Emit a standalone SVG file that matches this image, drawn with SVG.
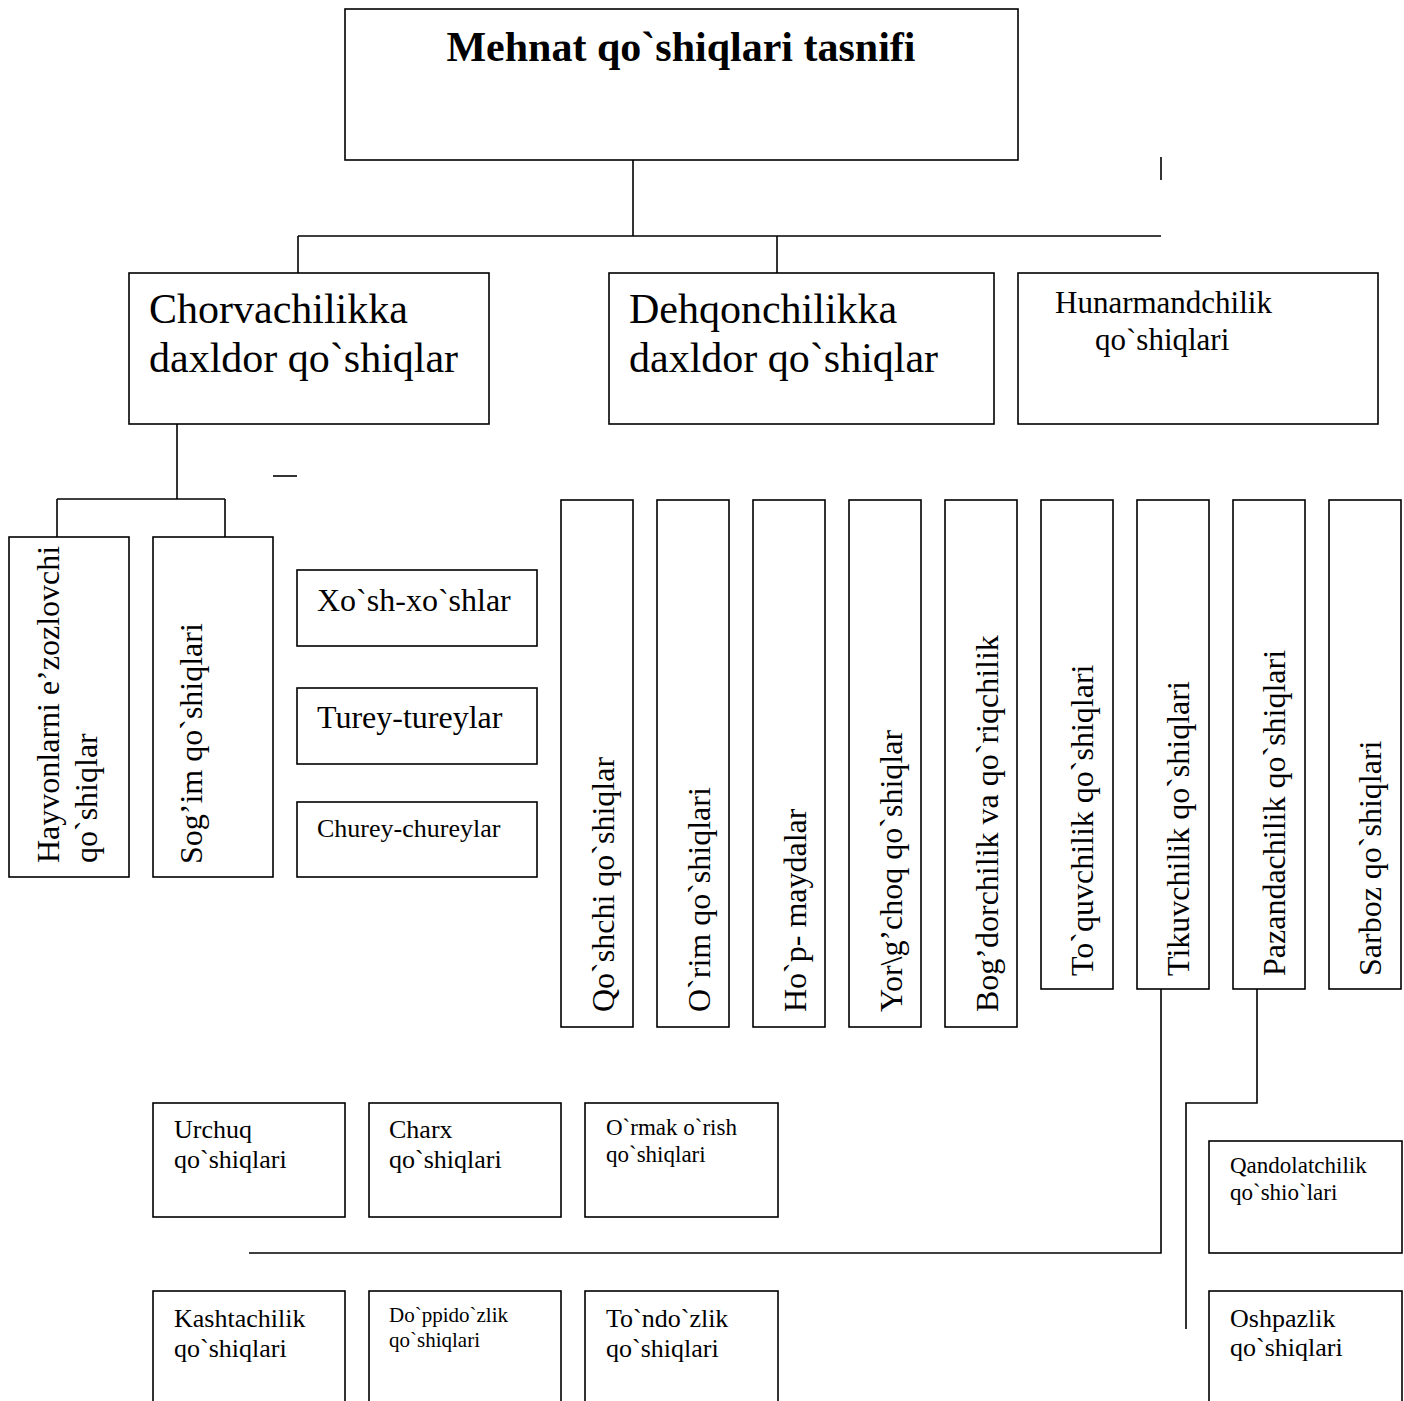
<svg xmlns="http://www.w3.org/2000/svg" width="1404" height="1401" viewBox="0 0 1404 1401">
<style>
rect{fill:#fff;stroke:#000;stroke-width:1.6}
line,polyline{fill:none;stroke:#000;stroke-width:1.6}
text{font-family:"Liberation Serif","Times New Roman",serif;fill:#000}
.t42{font-size:42px}
.t32{font-size:32px}
.t31{font-size:31px}
.t26{font-size:26px}
.t23{font-size:23px}
.t21{font-size:21px}
</style>
<rect x="0" y="0" width="1404" height="1401" style="stroke:none"/>
<g id="connectors">
<line x1="633" y1="160" x2="633" y2="236"/>
<line x1="298" y1="236" x2="1161" y2="236"/>
<line x1="298" y1="236" x2="298" y2="273"/>
<line x1="777" y1="236" x2="777" y2="273"/>
<line x1="1161" y1="157" x2="1161" y2="180"/>
<line x1="177" y1="424" x2="177" y2="499"/>
<line x1="57" y1="499" x2="225" y2="499"/>
<line x1="57" y1="499" x2="57" y2="537"/>
<line x1="225" y1="499" x2="225" y2="537"/>
<line x1="273" y1="476" x2="297" y2="476"/>
<polyline points="1161,989 1161,1253 249,1253"/>
<polyline points="1257,989 1257,1103 1186,1103 1186,1329"/>
</g>
<g id="root">
<rect x="345" y="9" width="673" height="151"/>
<text x="681" y="61" class="t42" font-weight="bold" text-anchor="middle">Mehnat qo`shiqlari tasnifi</text>
</g>
<g id="chorvachilik">
<rect x="129" y="273" width="360" height="151"/>
<text x="149" y="323" class="t42">Chorvachilikka</text>
<text x="149" y="372" class="t42">daxldor qo`shiqlar</text>
</g>
<g id="dehqonchilik">
<rect x="609" y="273" width="385" height="151"/>
<text x="629" y="323" class="t42">Dehqonchilikka</text>
<text x="629" y="372" class="t42">daxldor qo`shiqlar</text>
</g>
<g id="hunarmandchilik">
<rect x="1018" y="273" width="360" height="151"/>
<text x="1055" y="313" class="t31">Hunarmandchilik</text>
<text x="1095" y="350" class="t31">qo`shiqlari</text>
</g>
<g id="hayvonlarni">
<rect x="9" y="537" width="120" height="340"/>
<text transform="translate(59,863) rotate(-90)" class="t32">Hayvonlarni e’zozlovchi</text>
<text transform="translate(97,863) rotate(-90)" class="t32">qo`shiqlar</text>
</g>
<g id="sogim">
<rect x="153" y="537" width="120" height="340"/>
<text transform="translate(202,864) rotate(-90)" class="t32">Sog’im qo`shiqlari</text>
</g>
<g id="xosh">
<rect x="297" y="570" width="240" height="76"/>
<text x="317" y="611" class="t32">Xo`sh-xo`shlar</text>
</g>
<g id="turey">
<rect x="297" y="688" width="240" height="76"/>
<text x="317" y="728" class="t32">Turey-tureylar</text>
</g>
<g id="churey">
<rect x="297" y="802" width="240" height="75"/>
<text x="317" y="837" class="t26">Churey-chureylar</text>
</g>
<g id="qoshchi">
<rect x="561" y="500" width="72" height="527"/>
<text transform="translate(614,1012) rotate(-90)" class="t32">Qo`shchi qo`shiqlar</text>
</g>
<g id="orim">
<rect x="657" y="500" width="72" height="527"/>
<text transform="translate(710,1012) rotate(-90)" class="t32">O`rim qo`shiqlari</text>
</g>
<g id="hop">
<rect x="753" y="500" width="72" height="527"/>
<text transform="translate(806,1012) rotate(-90)" class="t32">Ho`p- maydalar</text>
</g>
<g id="yorgchoq">
<rect x="849" y="500" width="72" height="527"/>
<text transform="translate(902,1012) rotate(-90)" class="t32">Yor\g’choq qo`shiqlar</text>
</g>
<g id="bogdorchilik">
<rect x="945" y="500" width="72" height="527"/>
<text transform="translate(998,1012) rotate(-90)" class="t32">Bog’dorchilik va qo`riqchilik</text>
</g>
<g id="toquvchilik">
<rect x="1041" y="500" width="72" height="489"/>
<text transform="translate(1093,976) rotate(-90)" class="t32">To`quvchilik qo`shiqlari</text>
</g>
<g id="tikuvchilik">
<rect x="1137" y="500" width="72" height="489"/>
<text transform="translate(1189,976) rotate(-90)" class="t32">Tikuvchilik qo`shiqlari</text>
</g>
<g id="pazandachilik">
<rect x="1233" y="500" width="72" height="489"/>
<text transform="translate(1285,976) rotate(-90)" class="t32">Pazandachilik qo`shiqlari</text>
</g>
<g id="sarboz">
<rect x="1329" y="500" width="72" height="489"/>
<text transform="translate(1381,976) rotate(-90)" class="t32">Sarboz qo`shiqlari</text>
</g>
<g id="urchuq">
<rect x="153" y="1103" width="192" height="114"/>
<text x="174" y="1138" class="t26">Urchuq</text>
<text x="174" y="1168" class="t26">qo`shiqlari</text>
</g>
<g id="charx">
<rect x="369" y="1103" width="192" height="114"/>
<text x="389" y="1138" class="t26">Charx</text>
<text x="389" y="1168" class="t26">qo`shiqlari</text>
</g>
<g id="ormak">
<rect x="585" y="1103" width="193" height="114"/>
<text x="606" y="1135" class="t23">O`rmak o`rish</text>
<text x="606" y="1162" class="t23">qo`shiqlari</text>
</g>
<g id="kashtachilik">
<rect x="153" y="1291" width="192" height="130"/>
<text x="174" y="1327" class="t26">Kashtachilik</text>
<text x="174" y="1357" class="t26">qo`shiqlari</text>
</g>
<g id="doppidozlik">
<rect x="369" y="1291" width="192" height="130"/>
<text x="389" y="1322" class="t21">Do`ppido`zlik</text>
<text x="389" y="1347" class="t21">qo`shiqlari</text>
</g>
<g id="tondozlik">
<rect x="585" y="1291" width="193" height="130"/>
<text x="606" y="1327" class="t26">To`ndo`zlik</text>
<text x="606" y="1357" class="t26">qo`shiqlari</text>
</g>
<g id="qandolatchilik">
<rect x="1209" y="1141" width="193" height="112"/>
<text x="1230" y="1173" class="t23">Qandolatchilik</text>
<text x="1230" y="1200" class="t23">qo`shio`lari</text>
</g>
<g id="oshpazlik">
<rect x="1209" y="1291" width="193" height="130"/>
<text x="1230" y="1327" class="t26">Oshpazlik</text>
<text x="1230" y="1356" class="t26">qo`shiqlari</text>
</g>
</svg>
